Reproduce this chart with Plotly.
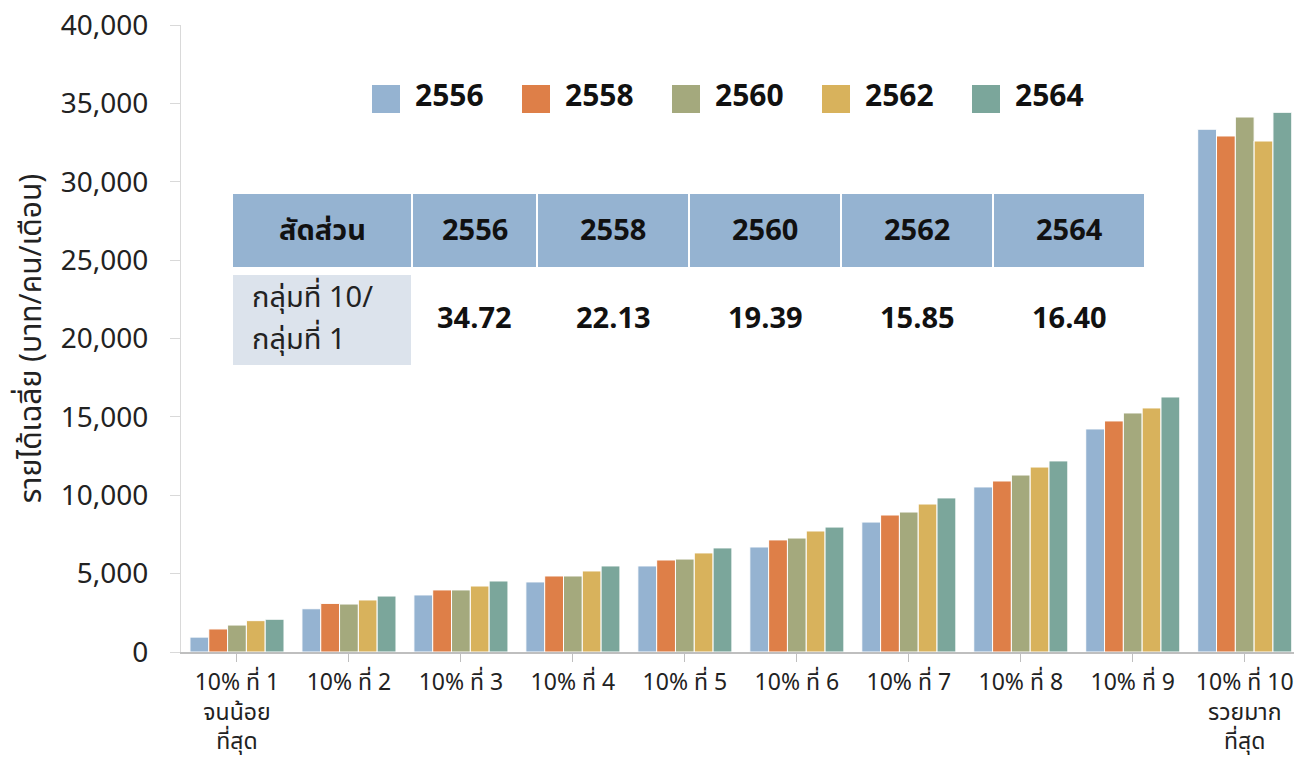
import plotly.graph_objects as go

categories = ["10% ที่ 1<br>จนน้อย<br>ที่สุด", "10% ที่ 2", "10% ที่ 3", "10% ที่ 4", "10% ที่ 5",
              "10% ที่ 6", "10% ที่ 7", "10% ที่ 8", "10% ที่ 9", "10% ที่ 10<br>รวยมาก<br>ที่สุด"]
years = ["2556", "2558", "2560", "2562", "2564"]
v2556 = [950, 2760, 3640, 4470, 5490, 6700, 8290, 10530, 14230, 33350]
v2558 = [1470, 3100, 3960, 4850, 5870, 7150, 8740, 10910, 14740, 32920]
v2560 = [1720, 3060, 3960, 4850, 5930, 7270, 8930, 11290, 15250, 34130]
v2562 = [2000, 3320, 4210, 5170, 6320, 7720, 9440, 11800, 15570, 32600]
v2564 = [2090, 3570, 4530, 5490, 6640, 7970, 9830, 12190, 16270, 34430]
series = [v2556, v2558, v2560, v2562, v2564]
colors = ["#95B3D1", "#DE7F48", "#A4A97D", "#D8B25C", "#7BA69B"]

ratio_label = "สัดส่วน"
ratio_row_label = ["กลุ่มที่ 10/", "กลุ่มที่ 1"]
ratios = ["34.72", "22.13", "19.39", "15.85", "16.40"]

W, H = 1294, 757
ML, MT, MB = 181, 25, 105
PW = W - ML
PH = H - MT - MB

def px(x):
    return (x - ML) / PW

def py(y):
    return (MT + PH - y) / PH

FONT = "Noto Sans Thai, Noto Sans, Open Sans, sans-serif"

fig = go.Figure()
for yr, vals, c in zip(years, series, colors):
    fig.add_trace(go.Bar(x=list(range(len(categories))), y=vals, name=yr,
                         marker=dict(color=c, line=dict(color="white", width=1)),
                         showlegend=False))

shapes = []
annotations = []
# legend
for i, (yr, c) in enumerate(zip(years, colors)):
    x0 = 372 + 150 * i
    shapes.append(dict(type="rect", xref="paper", yref="paper",
                       x0=px(x0), x1=px(x0 + 28), y0=py(113), y1=py(85),
                       fillcolor=c, line=dict(width=0)))
    annotations.append(dict(xref="paper", yref="paper", x=px(x0 + 41), y=py(97),
                            xanchor="left", yanchor="middle", showarrow=False,
                            text="<b>" + yr + "</b>",
                            font=dict(size=30, color="#111111", family=FONT)))

# table
hdr_cols = [(233, 411), (413, 536), (538, 688), (690, 840), (842, 992), (994, 1144)]
hdr_texts = [ratio_label] + years
for (x0, x1), t in zip(hdr_cols, hdr_texts):
    shapes.append(dict(type="rect", xref="paper", yref="paper",
                       x0=px(x0), x1=px(x1), y0=py(267), y1=py(194),
                       fillcolor="#95B3D1", line=dict(width=0)))
    annotations.append(dict(xref="paper", yref="paper", x=px((x0 + x1) / 2), y=py(231),
                            xanchor="center", yanchor="middle", showarrow=False,
                            text="<b>" + t + "</b>",
                            font=dict(size=29, color="#111111", family=FONT)))
shapes.append(dict(type="rect", xref="paper", yref="paper",
                   x0=px(233), x1=px(411), y0=py(365), y1=py(275),
                   fillcolor="#DCE3EC", line=dict(width=0)))
for j, line in enumerate(ratio_row_label):
    annotations.append(dict(xref="paper", yref="paper", x=px(250), y=py(298 + 42 * j),
                            xanchor="left", yanchor="middle", showarrow=False,
                            text=line,
                            font=dict(size=29, color="#222222", family=FONT)))
for (x0, x1), r in zip(hdr_cols[1:], ratios):
    annotations.append(dict(xref="paper", yref="paper", x=px((x0 + x1) / 2), y=py(319),
                            xanchor="center", yanchor="middle", showarrow=False,
                            text="<b>" + r + "</b>",
                            font=dict(size=29, color="#111111", family=FONT)))

fig.update_layout(
    width=W, height=H,
    margin=dict(l=ML, r=0, t=MT, b=MB, autoexpand=False),
    paper_bgcolor="white", plot_bgcolor="white",
    barmode="group", bargap=0.16, bargroupgap=0,
    font=dict(family=FONT, color="#222222"),
    shapes=shapes, annotations=annotations,
    xaxis=dict(range=[-0.5, 9.44], tickmode="array",
               tickvals=list(range(len(categories))), ticktext=categories,
               tickson="boundaries", ticks="outside", ticklen=8, tickcolor="#BFBFBF",
               showline=True, linecolor="#BFBFBF", linewidth=2, showgrid=False,
               tickfont=dict(size=23, color="#222222"), automargin=False),
    yaxis=dict(range=[0, 40000], dtick=5000, tickformat=",d",
               ticks="outside", ticklen=10, tickcolor="#D9D9D9",
               showline=True, linecolor="#D9D9D9", linewidth=1, showgrid=False,
               zeroline=False, tickfont=dict(size=28, color="#222222"),
               ticklabelstandoff=16, automargin=False,
               title=dict(text="รายได้เฉลี่ย (บาท/คน/เดือน)", standoff=10,
                          font=dict(size=30, color="#222222"))),
)

fig.write_html("out.html", config={"displayModeBar": False},
               post_script="document.body.style.margin='0';document.body.style.overflow='hidden';")
